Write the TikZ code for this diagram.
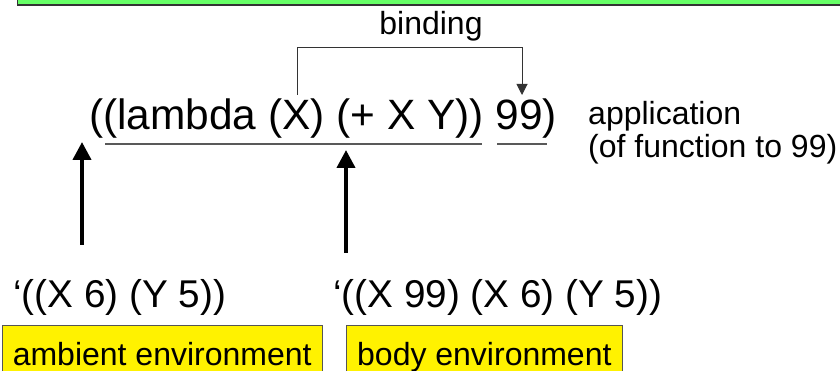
\documentclass[tikz,border=0pt]{standalone}
\usepackage{fontspec}
\setmainfont{Liberation Sans}
\usetikzlibrary{arrows.meta}
\definecolor{hdrgreen}{HTML}{66FF66}
\definecolor{hdrborder}{HTML}{333333}
\definecolor{boxborder}{HTML}{555555}
\definecolor{ulinegray}{HTML}{595959}
\begin{document}
\begin{tikzpicture}[x=1pt,y=-1pt,
  txt/.style={inner sep=0pt, font=\fontsize{32}{38}\selectfont},
  expr/.style={inner sep=0pt, font=\fontsize{42.4}{50}\selectfont},
  envlist/.style={inner sep=0pt, font=\fontsize{38.7}{46}\selectfont},
  ybox/.style={draw=boxborder, line width=1pt, fill=yellow, anchor=north west,
    inner xsep=0pt, inner ysep=10pt, text height=30pt, text depth=10pt,
    font=\fontsize{32}{38}\selectfont},
  thinarrow/.style={draw=hdrborder, line width=1pt, -{Triangle[width=11pt,length=11pt]}},
  thickarrow/.style={draw=black, line width=4pt, -{Triangle[width=18pt,length=18pt]}},
  uline/.style={draw=ulinegray, line width=1.5pt}]
\path[use as bounding box] (0,0) rectangle (840,371);
\draw[draw=hdrborder, line width=1.5pt, fill=hdrgreen] (17.5,-30) rectangle (870,5);

\node[txt, anchor=base] (binding) at (431,35) {binding};
\node[expr, anchor=base west] (expr) at (89,130) {((lambda (X) (+ X Y)) 99)};
\node[txt, anchor=base west] (app1) at (588,125) {application};
\node[txt, anchor=base west] (app2) at (588,158) {(of function to 99)};
\node[envlist, anchor=base west] (amb) at (13,307) {‘((X 6) (Y 5))};
\node[envlist, anchor=base west] (body) at (333,307) {‘((X 99) (X 6) (Y 5))};
\node[ybox, minimum width=320pt] (ambbox) at (1.7,325) {ambient environment};
\node[ybox, minimum width=275.7pt] (bodybox) at (346,325) {body environment};

\coordinate (xvar) at (297,95);
\coordinate (arg) at (522,95);
\draw[thinarrow] (xvar) -- (297,48) -| (arg);

\draw[uline] (105,144) -- (482,144);
\draw[uline] (497,144) -- (547,144);

\coordinate (ambtail) at (82,245);
\coordinate (ambtip) at (82,142);
\coordinate (bodytail) at (346,253);
\coordinate (bodytip) at (346,150);
\draw[thickarrow] (ambtail) -- (ambtip);
\draw[thickarrow] (bodytail) -- (bodytip);
\end{tikzpicture}
\end{document}
